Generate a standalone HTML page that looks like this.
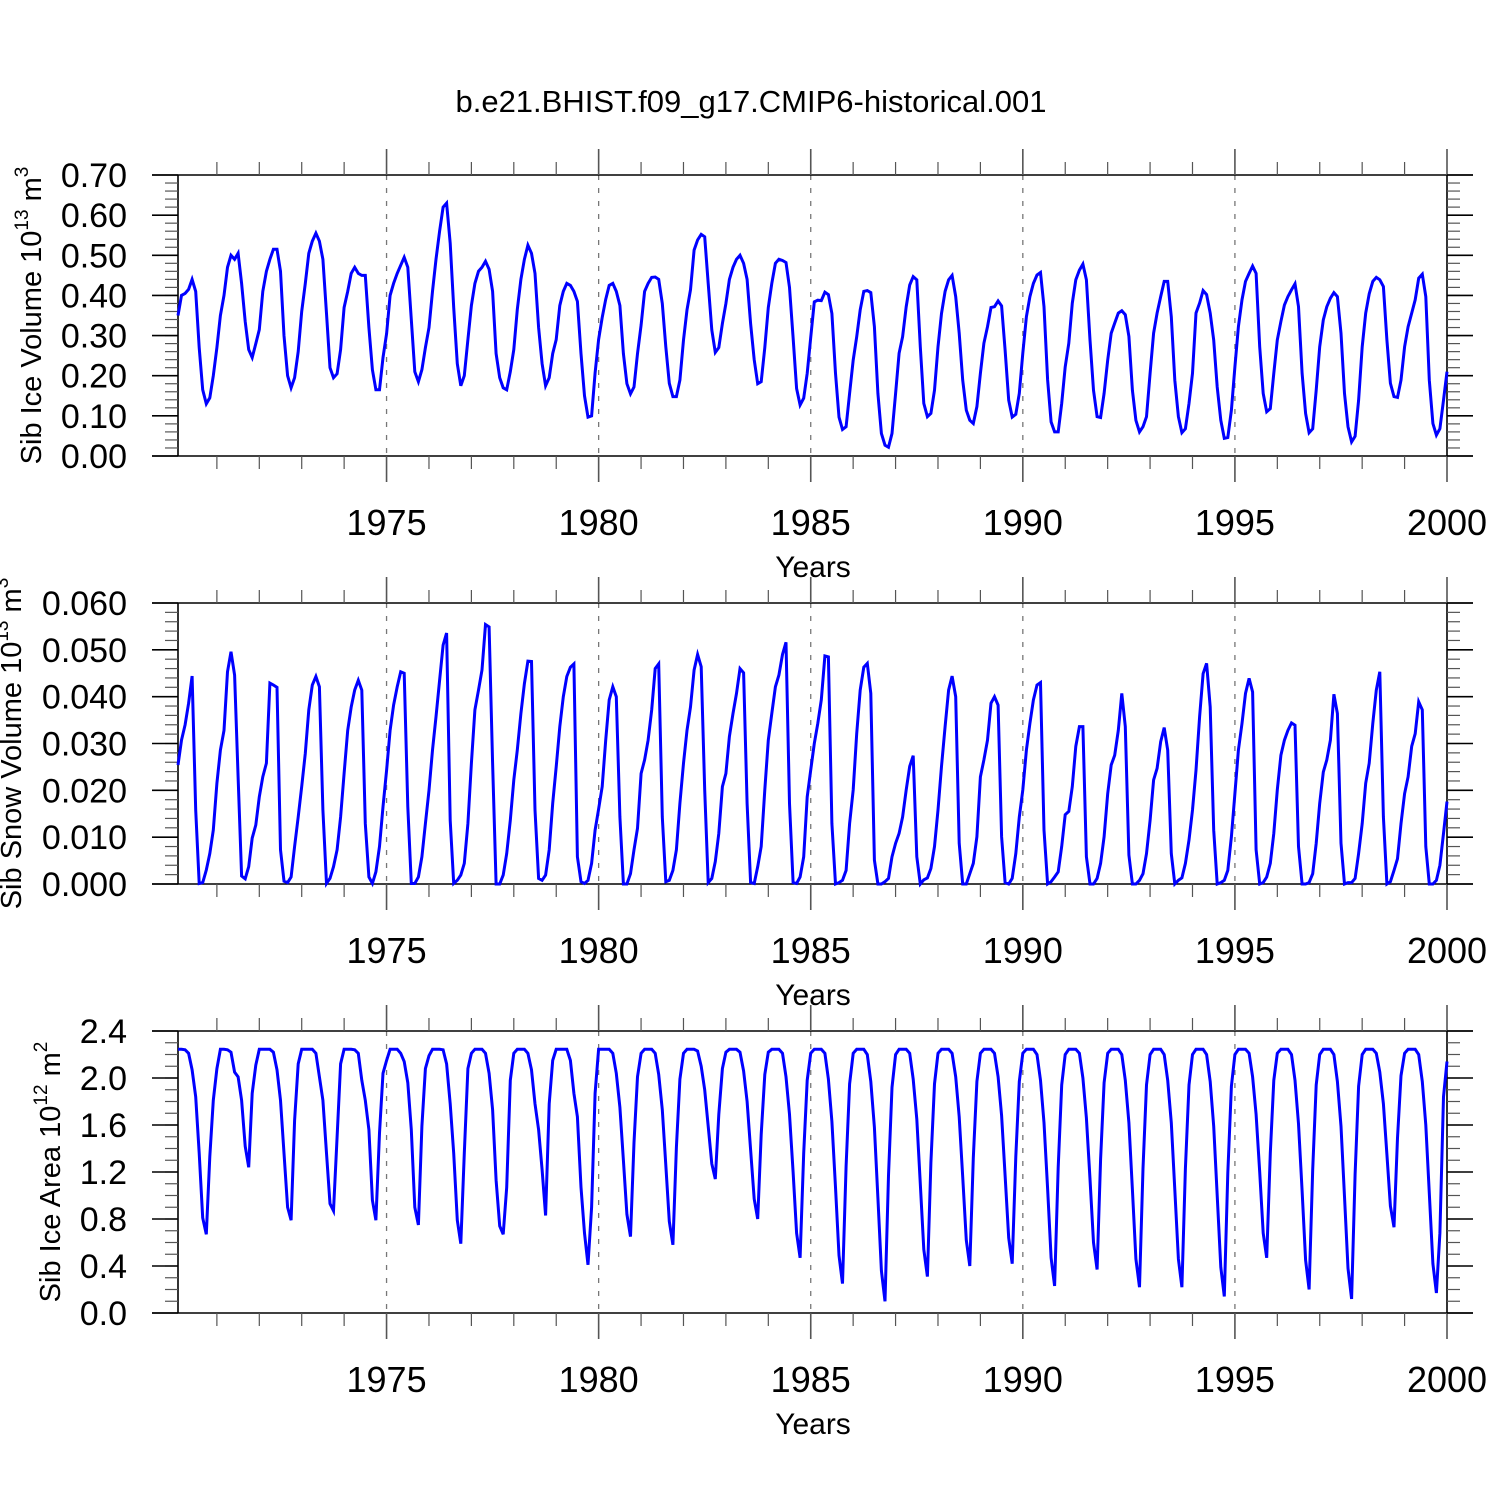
<!DOCTYPE html>
<html><head><meta charset="utf-8"><title>Sib ice chart</title>
<style>
html,body{margin:0;padding:0;background:#fff;}
svg{display:block;font-family:"Liberation Sans",Arial,sans-serif;}
</style></head>
<body>
<svg id="chart" width="1500" height="1500" viewBox="0 0 1500 1500" xmlns="http://www.w3.org/2000/svg">
<rect x="0" y="0" width="1500" height="1500" fill="#fff"/>
<text x="751" y="112" text-anchor="middle" font-size="31" fill="#000">b.e21.BHIST.f09_g17.CMIP6-historical.001</text>
</svg>
<script>
// ---- data (monthly, Jan 1970 .. Dec 1999) ----
const startYear = 1970;
const yearTicks = [1975, 1980, 1985, 1990, 1995, 2000];
const yearTickLabels = ["1975", "1980", "1985", "1990", "1995", "2000"];
const dashedYears = [1975, 1980, 1985, 1990, 1995];

const iceVolume = [
.35,.40,.405,.415,.44,.41,.27,.165,.13,.145,.20,.27,
.35,.40,.47,.50,.49,.505,.43,.335,.265,.245,.28,.315,
.41,.46,.49,.515,.515,.46,.30,.20,.17,.195,.26,.36,
.43,.505,.535,.555,.535,.49,.355,.22,.195,.205,.265,.37,
.41,.455,.47,.455,.45,.45,.32,.215,.165,.165,.245,.305,
.40,.43,.455,.475,.495,.47,.34,.21,.185,.215,.27,.32,
.41,.49,.56,.62,.63,.53,.37,.23,.175,.20,.29,.375,
.43,.46,.47,.485,.465,.41,.255,.195,.17,.165,.21,.265,
.365,.44,.49,.525,.505,.455,.32,.23,.175,.195,.255,.29,
.375,.41,.43,.425,.41,.385,.255,.15,.097,.10,.207,.29,
.345,.39,.425,.43,.41,.375,.255,.18,.155,.172,.255,.326,
.41,.43,.445,.446,.44,.38,.272,.181,.148,.148,.189,.289,
.364,.414,.513,.538,.552,.546,.43,.314,.258,.27,.33,.38,
.44,.47,.49,.50,.48,.44,.33,.24,.18,.185,.27,.37,
.43,.48,.49,.487,.482,.42,.295,.168,.127,.144,.206,.295,
.384,.388,.387,.408,.402,.355,.206,.097,.066,.073,.156,.239,
.297,.364,.41,.412,.407,.322,.156,.056,.027,.022,.056,.156,
.256,.297,.372,.426,.447,.439,.272,.131,.098,.106,.164,.272,
.355,.41,.439,.45,.397,.306,.189,.114,.089,.081,.123,.206,
.281,.322,.37,.372,.386,.374,.264,.139,.097,.104,.156,.256,
.347,.397,.43,.451,.457,.372,.19,.085,.06,.06,.131,.222,
.281,.381,.439,.463,.478,.439,.289,.164,.098,.096,.156,.239,
.306,.331,.356,.362,.352,.298,.164,.089,.06,.073,.098,.206,
.306,.356,.397,.435,.435,.347,.189,.098,.058,.068,.131,.206,
.356,.381,.412,.402,.356,.289,.172,.089,.044,.046,.114,.222,
.322,.389,.435,.455,.473,.455,.272,.156,.11,.118,.206,.289,
.335,.376,.397,.414,.429,.372,.206,.106,.058,.068,.164,.272,
.339,.372,.393,.407,.397,.306,.156,.073,.035,.049,.139,.272,
.356,.404,.435,.445,.439,.422,.289,.181,.148,.146,.189,.272,
.322,.356,.389,.443,.453,.397,.189,.081,.052,.068,.139,.21
];

const snowVolume = [
.0254,.0307,.034,.0386,.0444,.0158,.0001,.0003,.003,.0065,.0115,.0215,
.0286,.0328,.0453,.0496,.0446,.0229,.0017,.0011,.0037,.0098,.0126,.0186,
.0229,.0258,.0429,.0425,.042,.0073,.0006,.0003,.0015,.008,.0143,.0208,
.0279,.0372,.0425,.0443,.0421,.0158,.0001,.0012,.0037,.0073,.0143,.0236,
.0328,.0378,.0414,.0435,.0414,.0129,.0015,.0001,.0026,.008,.0165,.0243,
.0328,.0382,.0421,.0453,.045,.0165,.0001,.0001,.0015,.0058,.0129,.020,
.0286,.0357,.0435,.051,.0536,.0136,.0001,.0008,.0019,.0044,.0129,.0258,
.0372,.0414,.0457,.0554,.0549,.0258,0,0,.0019,.0065,.0136,.0222,
.0286,.0364,.0428,.0476,.0475,.0158,.0012,.0008,.0019,.0073,.0172,.025,
.0336,.04,.0443,.0463,.047,.0058,.0005,.0001,.0008,.0044,.0115,.016,
.0208,.0307,.0393,.0421,.040,.0143,0,0,.0022,.0073,.0119,.0236,
.0265,.0307,.0372,.046,.047,.0143,.0005,.0008,.0029,.0073,.0172,.0258,
.0328,.0378,.0457,.049,.0464,.0201,.0003,.0012,.0048,.0108,.0208,.0236,
.0315,.0364,.0407,.046,.0451,.0172,.0003,.0001,.0037,.008,.0201,.0307,
.0364,.0421,.0446,.049,.0516,.0172,.0003,.0001,.0015,.0058,.0186,.0243,
.03,.0343,.0393,.0487,.0485,.0129,0,.0003,.0008,.0029,.0129,.0201,
.0321,.0414,.0463,.0471,.0407,.0051,0,0,.0005,.0012,.0058,.0087,
.0108,.0143,.0201,.0251,.0274,.0058,0,.0009,.0013,.0033,.008,.0158,
.0251,.0336,.0414,.0444,.04,.0087,0,0,.0022,.0044,.0101,.0229,
.0265,.0307,.0386,.04,.0382,.0101,.0003,0,.0012,.0065,.0143,.0201,
.0286,.0343,.0393,.0425,.043,.0115,0,.0005,.0015,.0026,.008,.0148,
.0155,.0208,.0294,.0336,.0336,.0058,0,0,.0012,.0044,.0101,.0193,
.0254,.0275,.0328,.0407,.0336,.0062,0,0,.0008,.0022,.0065,.0136,
.0222,.0247,.0304,.0334,.0286,.0065,0,.0008,.0013,.0044,.0094,.0158,
.0243,.0357,.0449,.0471,.0378,.0115,0,.0003,.0008,.0029,.0101,.0193,
.0286,.0343,.0407,.0439,.041,.0073,0,.0003,.0015,.0044,.0108,.0201,
.0275,.0307,.0328,.0344,.0339,.008,0,0,.0003,.0022,.0087,.0172,
.0239,.0265,.0307,.0405,.0364,.0087,0,.0003,.0003,.0012,.0065,.0129,
.0215,.0258,.0343,.0414,.0453,.0143,0,.0005,.0029,.0054,.0129,.0193,
.0229,.0294,.0321,.0389,.0372,.008,0,0,.0008,.004,.0108,.0176
];

const iceArea = [
2.244,2.244,2.24,2.21,2.07,1.84,1.36,.81,.67,1.33,1.81,2.08,
2.244,2.244,2.24,2.22,2.05,2.01,1.81,1.42,1.24,1.87,2.11,2.244,
2.244,2.244,2.244,2.22,2.07,1.81,1.36,.90,.79,1.64,2.12,2.244,
2.244,2.244,2.244,2.21,2.01,1.81,1.36,.93,.87,1.50,2.12,2.244,
2.244,2.244,2.24,2.21,1.98,1.81,1.56,.96,.79,1.53,2.04,2.15,
2.244,2.244,2.244,2.21,2.14,1.96,1.56,.90,.75,1.59,2.08,2.19,
2.244,2.244,2.244,2.24,2.12,1.78,1.36,.79,.59,1.36,2.08,2.21,
2.244,2.244,2.244,2.21,2.04,1.73,1.13,.74,.67,1.07,1.98,2.21,
2.244,2.244,2.244,2.21,2.07,1.78,1.56,1.22,.83,1.78,2.15,2.244,
2.244,2.244,2.244,2.15,1.87,1.67,1.07,.68,.41,.90,1.87,2.244,
2.244,2.244,2.244,2.21,2.04,1.75,1.30,.84,.65,1.45,2.01,2.21,
2.244,2.244,2.244,2.21,2.03,1.73,1.26,.78,.58,1.41,1.99,2.21,
2.244,2.244,2.244,2.23,2.10,1.90,1.59,1.27,1.14,1.69,2.08,2.22,
2.244,2.244,2.244,2.22,2.06,1.80,1.39,.97,.80,1.52,2.03,2.22,
2.244,2.244,2.244,2.21,2.01,1.69,1.20,.68,.47,1.36,1.98,2.21,
2.244,2.244,2.244,2.21,1.99,1.63,1.07,.49,.25,1.25,1.95,2.21,
2.244,2.244,2.244,2.20,1.97,1.58,.98,.36,.10,1.17,1.92,2.20,
2.244,2.244,2.244,2.21,1.99,1.65,1.10,.54,.31,1.28,1.95,2.21,
2.244,2.244,2.244,2.21,2.01,1.67,1.16,.62,.40,1.32,1.97,2.21,
2.244,2.244,2.244,2.21,2.01,1.68,1.17,.64,.42,1.33,1.97,2.21,
2.244,2.244,2.244,2.20,1.98,1.62,1.06,.47,.23,1.24,1.94,2.20,
2.244,2.244,2.244,2.21,2.00,1.66,1.14,.60,.37,1.31,1.96,2.21,
2.244,2.244,2.244,2.20,1.98,1.62,1.05,.46,.22,1.23,1.94,2.20,
2.244,2.244,2.244,2.20,1.98,1.62,1.05,.46,.22,1.23,1.94,2.20,
2.244,2.244,2.244,2.20,1.97,1.59,1.00,.39,.14,1.19,1.93,2.20,
2.244,2.244,2.244,2.21,2.01,1.69,1.20,.68,.47,1.36,1.98,2.21,
2.244,2.244,2.244,2.20,1.98,1.61,1.04,.45,.20,1.22,1.94,2.20,
2.244,2.244,2.244,2.20,1.97,1.59,.99,.38,.12,1.18,1.93,2.20,
2.244,2.244,2.244,2.21,2.05,1.78,1.35,.91,.73,1.49,2.02,2.21,
2.244,2.244,2.244,2.20,1.97,1.60,1.02,.42,.17,.68,1.84,2.14
];

const volTicks = [0, 0.1, 0.2, 0.3, 0.4, 0.5, 0.6, 0.7];
const volTickLabels = ["0.00","0.10","0.20","0.30","0.40","0.50","0.60","0.70"];
const snowTicks = [0, 0.01, 0.02, 0.03, 0.04, 0.05, 0.06];
const snowTickLabels = ["0.000","0.010","0.020","0.030","0.040","0.050","0.060"];
const areaTicks = [0, 0.4, 0.8, 1.2, 1.6, 2.0, 2.4];
const areaTickLabels = ["0.0","0.4","0.8","1.2","1.6","2.0","2.4"];

// ---- drawing ----
const NS = "http://www.w3.org/2000/svg";
const svg = document.getElementById("chart");
const X0 = 178, X1 = 1447, T0 = 1970 + 1/12, T1 = 2000;
function xs(t){ return X0 + (t - T0) * (X1 - X0) / (T1 - T0); }
function mk(tag, attrs, parent){
  const e = document.createElementNS(NS, tag);
  for (const k in attrs) e.setAttribute(k, attrs[k]);
  (parent || svg).appendChild(e);
  return e;
}

function panel(cfg){
  const g = mk("g", {});
  
  
  const top = cfg.top, bot = cfg.bot;
  const ys = v => bot - (v - cfg.min) * (bot - top) / (cfg.max - cfg.min);

  dashedYears.forEach(yr => {
    const l = mk("line", {x1: xs(yr), x2: xs(yr), y1: top, y2: bot, stroke: "#777", "stroke-width": 1.3, "stroke-dasharray": "5,8"}, g);
    
    
  });

  const frame = [
    [152, top, 1473, top], [152, bot, 1473, bot],
    [X0, top, X0, bot], [X1, top, X1, bot]
  ];
  frame.forEach(f => {
    const l = mk("line", {x1: f[0], y1: f[1], x2: f[2], y2: f[3], stroke: "#000", "stroke-width": 1.6}, g);
    
    
  });

  for (let yr = 1971; yr <= 2000; yr++) {
    const major = yearTicks.indexOf(yr) >= 0;
    const len = major ? 26 : 13;
    const x = xs(yr);
    const t1 = mk("line", {x1: x, x2: x, y1: top - len, y2: top, stroke: "#555", "stroke-width": major ? 1.6 : 1.2}, g);
    
    
    const t2 = mk("line", {x1: x, x2: x, y1: bot, y2: bot + len, stroke: "#555", "stroke-width": major ? 1.6 : 1.2}, g);
    
    
  }
  yearTicks.forEach((yr, i) => {
    const t = mk("text", {x: xs(yr), y: bot + 79, "text-anchor": "middle", "font-size": 36, fill: "#000"}, g);
    t.textContent = yearTickLabels[i];
    
    
  });
  const xt = mk("text", {x: 813, y: bot + 121, "text-anchor": "middle", "font-size": 30, fill: "#000"}, g);
  xt.textContent = "Years";
  
  

  const nMinor = Math.round((cfg.max - cfg.min) / cfg.minorStep);
  for (let k = 1; k < nMinor; k++) {
    const y = ys(cfg.min + k * cfg.minorStep);
    const a = mk("line", {x1: X0 - 13, x2: X0, y1: y, y2: y, stroke: "#555", "stroke-width": 1.2}, g);
    
    
    const b = mk("line", {x1: X1, x2: X1 + 13, y1: y, y2: y, stroke: "#555", "stroke-width": 1.2}, g);
    
    
  }
  cfg.ticks.forEach((v, i) => {
    const y = ys(v);
    const a = mk("line", {x1: 152, x2: X0, y1: y, y2: y, stroke: "#000", "stroke-width": 1.6}, g);
    
    
    const b = mk("line", {x1: X1, x2: 1473, y1: y, y2: y, stroke: "#000", "stroke-width": 1.6}, g);
    
    
    const t = mk("text", {x: 127, y: y + 12, "text-anchor": "end", "font-size": 34, fill: "#000"}, g);
    t.textContent = cfg.tickLabels[i];
    
    
  });

  const cy = (top + bot) / 2;
  const yt = mk("text", {x: cfg.titleX, y: cy, "text-anchor": "middle", "font-size": 29, fill: "#000",
    transform: "rotate(-90 " + cfg.titleX + " " + cy + ")"}, g);
  
  
  yt.appendChild(document.createTextNode(cfg.title + " 10"));
  const s1 = mk("tspan", {"font-size": 19, dy: -13}, yt);
  s1.textContent = cfg.exp;
  const s2 = mk("tspan", {dy: 13}, yt);
  s2.textContent = " m";
  const s3 = mk("tspan", {"font-size": 19, dy: -13}, yt);
  s3.textContent = cfg.unitExp;

  const pts = cfg.data.map((v, i) => xs(startYear + (i + 1) / 12).toFixed(1) + "," + ys(v).toFixed(1)).join(" ");
  const pl = mk("polyline", {points: pts, fill: "none", stroke: "#0000ff", "stroke-width": 3, "stroke-linejoin": "miter"}, g);
  
  
}

panel({name: "ice-volume-panel", top: 175, bot: 456, min: 0, max: 0.7, minorStep: 0.02,
  ticks: volTicks, tickLabels: volTickLabels, data: iceVolume,
  title: "Sib Ice Volume", exp: "13", unitExp: "3", titleX: 41});
panel({name: "snow-volume-panel", top: 603, bot: 884, min: 0, max: 0.06, minorStep: 0.002,
  ticks: snowTicks, tickLabels: snowTickLabels, data: snowVolume,
  title: "Sib Snow Volume", exp: "13", unitExp: "3", titleX: 21});
panel({name: "ice-area-panel", top: 1031, bot: 1313, min: 0, max: 2.4, minorStep: 0.1,
  ticks: areaTicks, tickLabels: areaTickLabels, data: iceArea,
  title: "Sib Ice Area", exp: "12", unitExp: "2", titleX: 60});
</script>
</body></html>
